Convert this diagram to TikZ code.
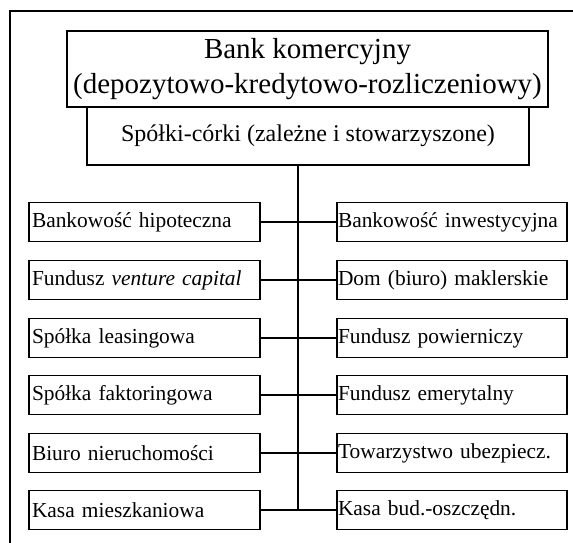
\documentclass[tikz,border=0pt]{standalone}
\usepackage{fontspec}
\setmainfont{Liberation Serif}
\begin{document}
\begin{tikzpicture}[x=1pt,y=-1pt,
  frame/.style={line width=1.5pt},
  topbox/.style={draw,line width=1.5pt,minimum width=481pt,minimum height=76pt,inner sep=0pt,align=center,font=\fontsize{29}{34.6}\selectfont},
  subbox/.style={draw,line width=1.5pt,minimum width=442pt,minimum height=58pt,inner sep=0pt,font=\fontsize{24}{28}\selectfont},
  leftbox/.style={draw,line width=1.5pt,minimum width=231pt,minimum height=39pt,inner xsep=3pt,inner ysep=0pt,text width=225pt,align=left,font=\fontsize{21.4}{25}\selectfont},
  rightbox/.style={draw,line width=1.5pt,minimum width=230pt,minimum height=39pt,inner xsep=1pt,inner ysep=0pt,text width=228pt,align=left,font=\fontsize{21.4}{25}\selectfont},
  conn/.style={line width=1.5pt}]
\useasboundingbox (0,0) rectangle (573,543);
\draw[frame] (10,543) -- (10,11) -- (573,11);
\node[topbox] (bank) at (307.5,69) {Bank komercyjny\\(depozytowo-kredytowo-rozliczeniowy)};
\node[subbox] (sub) at (308,136) {Spółki-córki (zależne i stowarzyszone)};
\node[leftbox] (L1) at (144.5,222) {Bankowość hipoteczna};
\node[leftbox] (L2) at (144.5,280) {Fundusz \textit{venture capital}};
\node[leftbox] (L3) at (144.5,338) {Spółka leasingowa};
\node[leftbox] (L4) at (144.5,395) {Spółka faktoringowa};
\node[leftbox] (L5) at (144.5,453) {Biuro nieruchomości};
\node[leftbox] (L6) at (144.5,510) {Kasa mieszkaniowa};
\node[rightbox] (R1) at (452,222) {Bankowość inwestycyjna};
\node[rightbox] (R2) at (452,280) {Dom (biuro) maklerskie};
\node[rightbox] (R3) at (452,338) {Fundusz powierniczy};
\node[rightbox] (R4) at (452,395) {Fundusz emerytalny};
\node[rightbox] (R5) at (452,453) {Towarzystwo ubezpiecz.};
\node[rightbox] (R6) at (452,510) {Kasa bud.-oszczędn.};
\coordinate (vt) at (298,165);
\coordinate (vb) at (298,510);
\draw[conn] (vt) -- (vb);
\foreach \i in {1,...,6} {\draw[conn] (L\i.east) -- (R\i.west);}
\end{tikzpicture}
\end{document}
